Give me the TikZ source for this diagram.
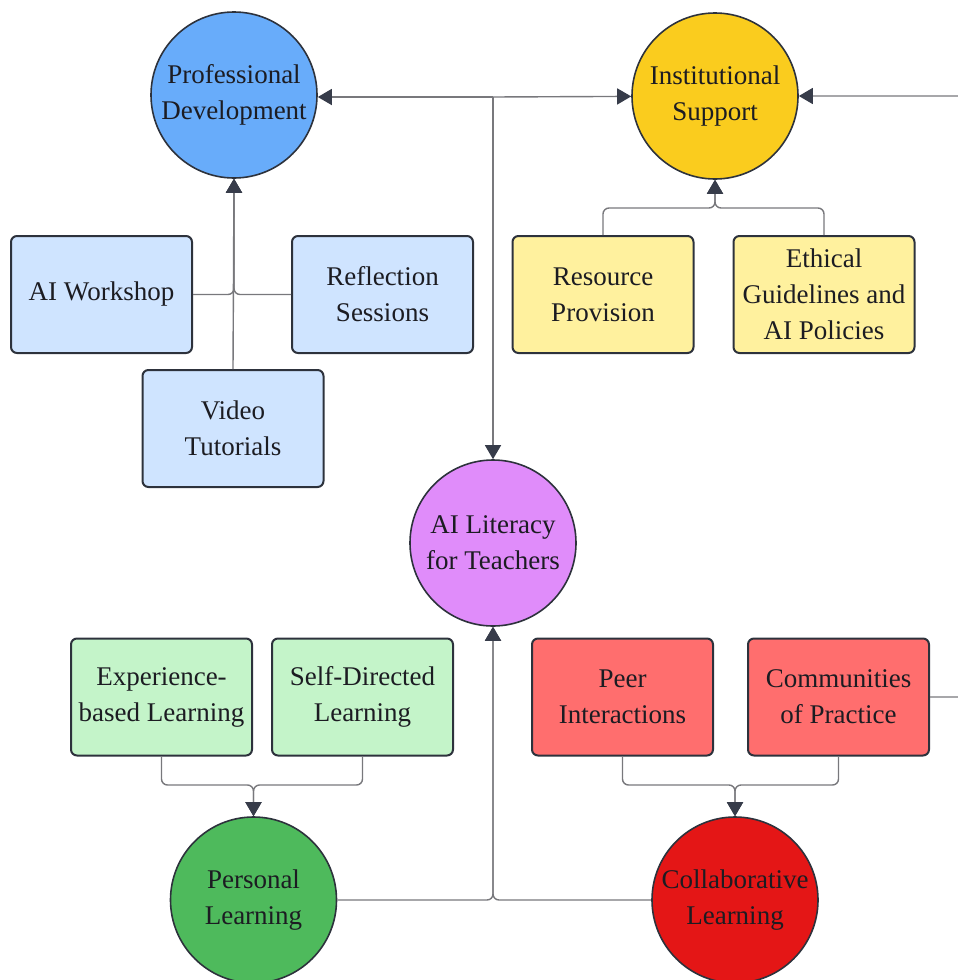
\documentclass[tikz,border=0pt]{standalone}
\usepackage{fontspec}
\setmainfont{Liberation Serif}
\usetikzlibrary{arrows.meta,positioning}

\definecolor{profblue}{RGB}{104,172,250}
\definecolor{instgold}{RGB}{250,204,30}
\definecolor{litviolet}{RGB}{224,140,250}
\definecolor{persgreen}{RGB}{78,186,92}
\definecolor{collred}{RGB}{228,22,22}
\definecolor{boxblue}{RGB}{207,228,255}
\definecolor{boxyellow}{RGB}{255,241,158}
\definecolor{boxgreen}{RGB}{196,244,201}
\definecolor{boxred}{RGB}{255,110,110}
\definecolor{edgedark}{RGB}{45,50,60}
\definecolor{linegray}{RGB}{120,120,124}
\definecolor{tipdark}{RGB}{55,60,74}
\definecolor{textdark}{RGB}{28,28,34}

\begin{document}
\begin{tikzpicture}[
    x=1pt, y=-1pt,
    node distance=20pt,
    topic/.style={circle, draw=edgedark, line width=1.6pt, minimum size=166pt, inner sep=0pt, align=center, text=textdark, font=\fontsize{27}{36}\selectfont},
    leaf/.style={rectangle, draw=edgedark, line width=2pt, rounded corners=6pt, minimum width=181pt, minimum height=117pt, inner sep=2pt, align=center, text=textdark, font=\fontsize{27}{36}\selectfont},
    link/.style={draw=linegray, line width=1.4pt, rounded corners=6pt},
    arrow/.style={link, -{Triangle[length=14pt,width=16pt,color=tipdark]}}
]
    \useasboundingbox (0,0) rectangle (958,980);
    \clip (0,0) rectangle (958,980);

    % main circles
    \node[topic, fill=profblue] (prof) at (234,95) {Professional\\Development};
    \node[topic, fill=instgold] (inst) at (715,96) {Institutional\\Support};
    \node[topic, fill=litviolet] (lit) at (493,543) {AI Literacy\\for Teachers};
    \node[topic, fill=persgreen] (pers) at (253.5,900) {Personal\\Learning};
    \node[topic, fill=collred] (coll) at (735,900) {Collaborative\\Learning};

    % professional development items
    \node[leaf, fill=boxblue] (workshop) at (101.5,294.5) {AI Workshop};
    \node[leaf, fill=boxblue, right=98pt of workshop] (reflect) {Reflection\\Sessions};
    \node[leaf, fill=boxblue] (video) at (233,428.5) {Video\\Tutorials};

    % institutional support items
    \node[leaf, fill=boxyellow] (resource) at (603,294.5) {Resource\\Provision};
    \node[leaf, fill=boxyellow, right=38pt of resource] (ethics) {Ethical\\Guidelines and\\AI Policies};

    % personal learning items
    \node[leaf, fill=boxgreen] (experience) at (161.5,697) {Experience-\\based Learning};
    \node[leaf, fill=boxgreen, right=18pt of experience] (selfdir) {Self-Directed\\Learning};

    % collaborative learning items
    \node[leaf, fill=boxred] (peer) at (622.5,697) {Peer\\Interactions};
    \node[leaf, fill=boxred, right=33pt of peer] (community) {Communities\\of Practice};

    % junctions
    \coordinate (topjoin) at (493,97);
    \coordinate (instjoin) at (715,208);
    \coordinate (persjoin) at (253.5,785);
    \coordinate (colljoin) at (735,785);
    \coordinate (rim) at (985,500);

    \draw[arrow] (topjoin) -- (prof.east |- topjoin);
    \draw[arrow] (topjoin) -- (inst);
    \draw[arrow] (topjoin) -- (lit);

    \draw[arrow] (workshop.east) -| (prof.south);
    \draw[arrow] (reflect.west) -| (prof.south);
    \draw[arrow] (video.north) -- (prof.south);

    \draw[arrow] (resource.north) |- (instjoin) -- (inst.south);
    \draw[arrow] (ethics.north) |- (instjoin) -- (inst.south);

    \draw[arrow] (experience.south) |- (persjoin) -- (pers.north);
    \draw[arrow] (selfdir.south) |- (persjoin) -- (pers.north);

    \draw[arrow] (peer.south) |- (colljoin) -- (coll.north);
    \draw[arrow] (community.south) |- (colljoin) -- (coll.north);

    \draw[arrow] (pers.east) -| (lit.south);
    \draw[arrow] (coll.west) -| (lit.south);
    \draw[arrow] (community.east) -| (rim) |- (inst.east);
\end{tikzpicture}
\end{document}
